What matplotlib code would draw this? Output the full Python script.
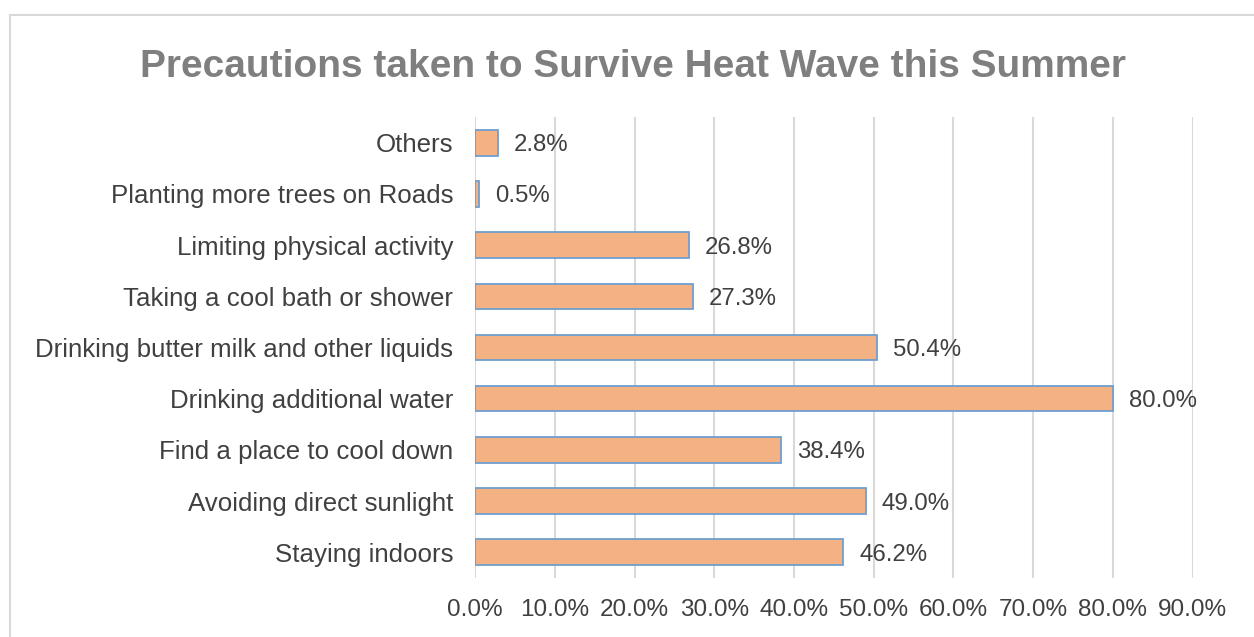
import matplotlib.pyplot as plt
from matplotlib.patches import Rectangle

plt.rcParams['font.family'] = ['Liberation Sans', 'DejaVu Sans']

categories = ['Staying indoors', 'Avoiding direct sunlight', 'Find a place to cool down',
              'Drinking additional water', 'Drinking butter milk and other liquids',
              'Taking a cool bath or shower', 'Limiting physical activity',
              'Planting more trees on Roads', 'Others']
values = [46.2, 49.0, 38.4, 80.0, 50.4, 27.3, 26.8, 0.5, 2.8]
xticks = [0, 10, 20, 30, 40, 50, 60, 70, 80, 90]

fig = plt.figure(figsize=(12.54, 6.37), dpi=100)
ax = fig.add_axes([0.379, 0.093, 0.572, 0.723])

# outer chart border
fig.patches.append(Rectangle((10 / 1254, -0.05), 1.1, 1 - 15 / 637 + 0.05,
                             transform=fig.transFigure, fill=False,
                             edgecolor='#d9d9d9', linewidth=1.5))

y = range(len(categories))
ax.barh(y, values, height=0.5, color='#f4b183', edgecolor='#6f9fd0', linewidth=1.3, zorder=3)

for i, v in enumerate(values):
    ax.text(v + 2.0, i, f'{v:.1f}%', va='center_baseline', ha='left', fontsize=17.3, color='#404040')

ax.set_xlim(0, 90)
ax.set_ylim(-0.5, len(categories) - 0.5)
ax.set_xticks(xticks)
ax.set_xticklabels([f'{t:.1f}%' for t in xticks], fontsize=17.5, color='#404040')
ax.set_yticks(list(y))
ax.set_yticklabels(categories, fontsize=18.6, color='#404040')
ax.tick_params(axis='both', length=0)
ax.tick_params(axis='x', pad=15)
ax.tick_params(axis='y', pad=16)
ax.grid(axis='x', color='#d9d9d9', linewidth=1.5, zorder=0)
for s in ax.spines.values():
    s.set_visible(False)

fig.text(0.505, 0.895, 'Precautions taken to Survive Heat Wave this Summer',
         ha='center', va='center', fontsize=28, fontweight='bold', color='#7f7f7f')

fig.savefig('out.png', dpi=100)
